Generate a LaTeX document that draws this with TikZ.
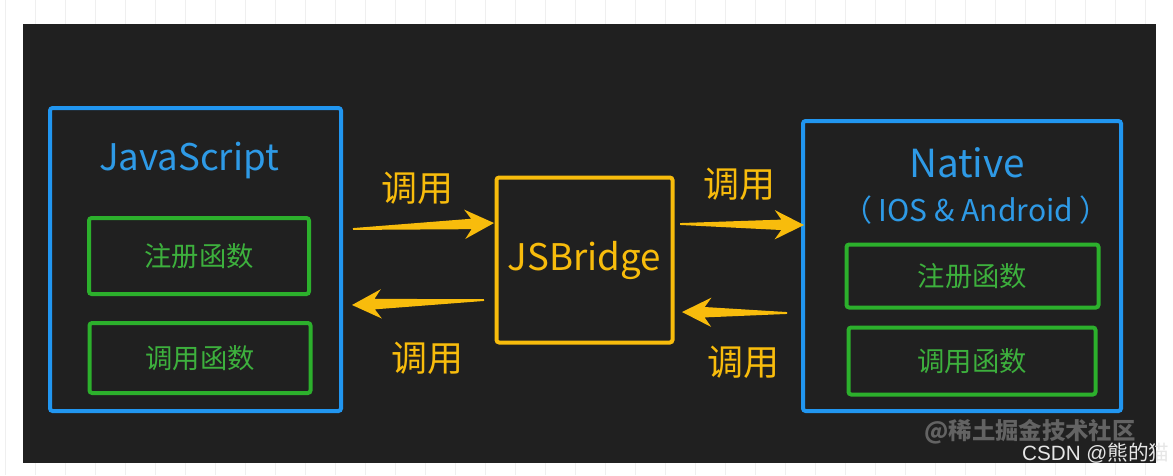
\documentclass[tikz,border=0pt]{standalone}
\usepackage{fontspec}
\setmainfont{Noto Sans CJK SC}
\newfontfamily\wmfont{Liberation Sans}
\usetikzlibrary{calc}
\definecolor{bgdark}{HTML}{202020}
\definecolor{boxblue}{HTML}{2196F0}
\definecolor{txtblue}{HTML}{2E9AE6}
\definecolor{boxgreen}{HTML}{2CB02C}
\definecolor{txtgreen}{HTML}{3DB03D}
\definecolor{bridgeyellow}{HTML}{F8BC0C}
\definecolor{gridgray}{HTML}{EFEFEF}
\definecolor{wmgray}{HTML}{636363}
\definecolor{csdngray}{HTML}{E6E6E6}
\tikzset{
  outerbox/.style={draw=boxblue, line width=3pt, rounded corners=2pt},
  innerbox/.style={draw=boxgreen, line width=3pt, rounded corners=2pt},
  bridgebox/.style={draw=bridgeyellow, line width=3pt, rounded corners=2pt},
  greentext/.style={text=txtgreen, font=\fontsize{20.5pt}{24pt}\selectfont},
  calllabel/.style={text=bridgeyellow, font=\fontsize{27pt}{30pt}\selectfont},
}
% tapered arrow from tail #1 to tip #2
\newcommand{\fatarrow}[2]{%
  \fill[bridgeyellow]
    ($(#1)!0.7pt!90:(#2)$) --
    ($($(#2)!17pt!(#1)$)!3.9pt!-90:(#1)$) --
    ($($(#2)!22pt!(#1)$)!11pt!-90:(#1)$) --
    (#2) --
    ($($(#2)!22pt!(#1)$)!11pt!90:(#1)$) --
    ($($(#2)!17pt!(#1)$)!3.9pt!90:(#1)$) --
    ($(#1)!0.7pt!-90:(#2)$) -- cycle;}
\begin{document}
\begin{tikzpicture}[x=0.75pt,y=-0.75pt]
\useasboundingbox (0,0) rectangle (1173,475);
\fill[white] (0,0) rectangle (1173,475);
\foreach \gx in {5,35,...,1173} \draw[gridgray, line width=0.6pt] (\gx,0) -- (\gx,475);
\fill[bgdark] (23,24) rectangle (1156,463);

% left: JavaScript
\draw[outerbox] (50,108) rectangle (341,411);
\node[text=txtblue, font=\fontsize{27.5pt}{32pt}\selectfont] (js) at (189,160) {JavaScript};
\node[innerbox, minimum width=220*0.75pt, minimum height=76*0.75pt, greentext] (jsreg) at (199,256) {注册函数};
\node[innerbox, minimum width=221*0.75pt, minimum height=70*0.75pt, greentext] (jscall) at (200,358) {调用函数};

% middle: JSBridge
\node[bridgebox, minimum width=176*0.75pt, minimum height=165*0.75pt, text=bridgeyellow, font=\fontsize{27.5pt}{32pt}\selectfont] (bridge) at (584.5,260) {JSBridge};

% right: Native
\draw[outerbox] (803,121) rectangle (1121,411);
\node[text=txtblue, font=\fontsize{29pt}{33pt}\selectfont] (native) at (967,163) {Native};
\node[text=txtblue, font=\fontsize{22.5pt}{26pt}\selectfont] (platform) at (976,210) {（ IOS \& Android ）};
\node[innerbox, minimum width=252*0.75pt, minimum height=63*0.75pt, greentext] (nreg) at (972.5,276) {注册函数};
\node[innerbox, minimum width=247*0.75pt, minimum height=67*0.75pt, greentext] (ncall) at (972,361) {调用函数};

% arrows
\coordinate (a1t) at (353,229); \coordinate (a1h) at (494,223);
\coordinate (a2t) at (484,300); \coordinate (a2h) at (352,305);
\coordinate (a3t) at (680,224); \coordinate (a3h) at (804,225);
\coordinate (a4t) at (787,313); \coordinate (a4h) at (682,312);
\fatarrow{a1t}{a1h}
\fatarrow{a2t}{a2h}
\fatarrow{a3t}{a3h}
\fatarrow{a4t}{a4h}

\node[calllabel] (l1) at (417,188) {调用};
\node[calllabel] (l2) at (739,184) {调用};
\node[calllabel] (l3) at (427,358) {调用};
\node[calllabel] (l4) at (743,362) {调用};

% watermarks
\node[text=wmgray, font=\fontsize{17.5pt}{20pt}\selectfont\bfseries] (wm1) at (1030,432) {@稀土掘金技术社区};
\node[text=csdngray, font=\fontsize{15.5pt}{18pt}\selectfont, anchor=east, inner sep=1pt] (wm2) at (1171,453) {{\wmfont CSDN @}熊的猫};
\end{tikzpicture}
\end{document}
